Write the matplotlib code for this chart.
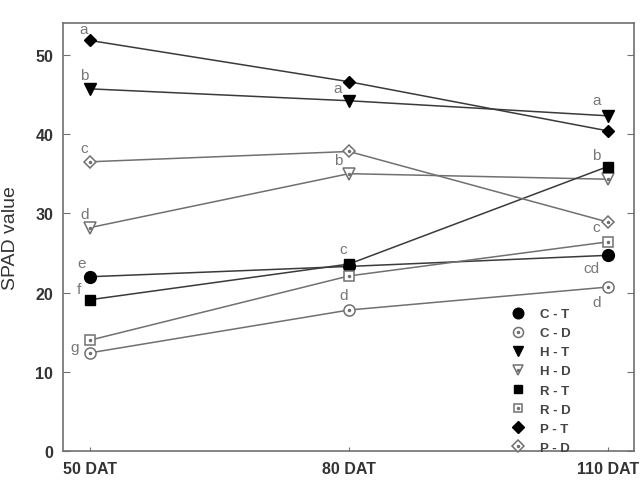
import matplotlib.pyplot as plt
from matplotlib.lines import Line2D
from matplotlib.legend_handler import HandlerTuple

plt.rcParams['font.family'] = ['Liberation Sans', 'DejaVu Sans']

days = ['50 DAT', '80 DAT', '110 DAT']

c_t = [22.0, 23.3, 24.7]
c_d = [12.4, 17.8, 20.7]
h_t = [45.7, 44.2, 42.3]
h_d = [28.2, 35.0, 34.3]
r_t = [19.1, 23.6, 35.9]
r_d = [14.0, 22.1, 26.4]
p_t = [51.8, 46.6, 40.4]
p_d = [36.5, 37.8, 28.9]

names = ['C - T', 'C - D', 'H - T', 'H - D', 'R - T', 'R - D', 'P - T', 'P - D']

# letters of significance for each day and the value they sit next to
letters_50 = ['a', 'b', 'c', 'd', 'e', 'f', 'g']
letters_50_at = [p_t[0], h_t[0], p_d[0], h_d[0], c_t[0], r_t[0], c_d[0]]
letters_80 = ['a', 'b', 'c', 'd']
letters_80_at = [h_t[1], h_d[1], r_t[1], c_d[1]]
letters_110 = ['a', 'b', 'c', 'cd', 'd']
letters_110_at = [h_t[2], r_t[2], r_d[2], c_t[2], c_d[2]]

x = [0, 1, 2]
dark = '#3a3a3a'
grey = '#707070'

fig = plt.figure(figsize=(6.42, 4.81), dpi=100)
ax = fig.add_axes([0.098, 0.060, 0.889, 0.890])

series = [c_t, c_d, h_t, h_d, r_t, r_d, p_t, p_d]
markers = ['o', 'o', 'v', 'v', 's', 's', 'D', 'D']
sizes = [8.5, 8, 8, 8, 7, 7, 6.5, 6.5]
handles = []
for vals, m, ms, name in zip(series, markers, sizes, names):
    if name.endswith('T'):
        ax.plot(x, vals, marker=m, ms=ms, color=dark, mfc='black',
                mec='black', lw=1.1, zorder=3)
        handles.append(Line2D([], [], ls='none', marker=m, ms=ms * 0.9,
                              mfc='black', mec='black'))
    else:
        ax.plot(x, vals, marker=m, ms=ms, color=grey, mfc='white',
                mec=grey, mew=1.1, lw=1.1, zorder=3)
        ax.plot(x, vals, ls='none', marker='.', ms=3, color=grey, zorder=4)
        handles.append((Line2D([], [], ls='none', marker=m, ms=ms * 0.9,
                               mfc='white', mec=grey, mew=1.1),
                        Line2D([], [], ls='none', marker='.', ms=3, color=grey)))

txt = dict(color='#777777', fontsize=11, ha='center', va='bottom')
offs_50 = [(-5, 3), (-4, 5), (-4, 5), (-4, 5), (-6, 5), (-8, 3), (-11, -1)]
for s, v, o in zip(letters_50, letters_50_at, offs_50):
    ax.annotate(s, (0, v), xytext=o, textcoords='offset points', **txt)
offs_80 = [(-8, 4), (-8, 5), (-4, 6), (-4, 6)]
for s, v, o in zip(letters_80, letters_80_at, offs_80):
    ax.annotate(s, (1, v), xytext=o, textcoords='offset points', **txt)
offs_110 = [(-8, 6), (-8, 3), (-8, 6), (-12, -14), (-8, -16)]
for s, v, o in zip(letters_110, letters_110_at, offs_110):
    ax.annotate(s, (2, v), xytext=o, textcoords='offset points', **txt)

ax.set_xlim(-0.105, 2.10)
ax.set_ylim(0, 54)
ax.set_xticks(x)
ax.set_xticklabels(days, fontsize=11.5, fontweight='bold', color='#333333')
ax.set_yticks(range(0, 51, 10))
ax.set_yticklabels([str(v) for v in range(0, 51, 10)], fontsize=11.5,
                   fontweight='bold', color='#333333')
ax.tick_params(axis='x', direction='in', length=3, color=grey, pad=7)
ax.tick_params(axis='y', direction='in', length=5, color=grey, right=True, pad=7)
for sp in ax.spines.values():
    sp.set_color(grey)
    sp.set_linewidth(1.2)
ax.set_ylabel('SPAD value', fontsize=14, color='#333333', labelpad=12)

leg = ax.legend(handles, names, loc='lower left', bbox_to_anchor=(0.765, -0.034),
                frameon=False, handler_map={tuple: HandlerTuple(ndivide=1, pad=0)},
                prop={'size': 9.5, 'weight': 'bold'}, labelspacing=0.52,
                handlelength=1.0, handletextpad=1.2)
for t in leg.get_texts():
    t.set_color('#444444')

fig.savefig('out.png', dpi=100)
